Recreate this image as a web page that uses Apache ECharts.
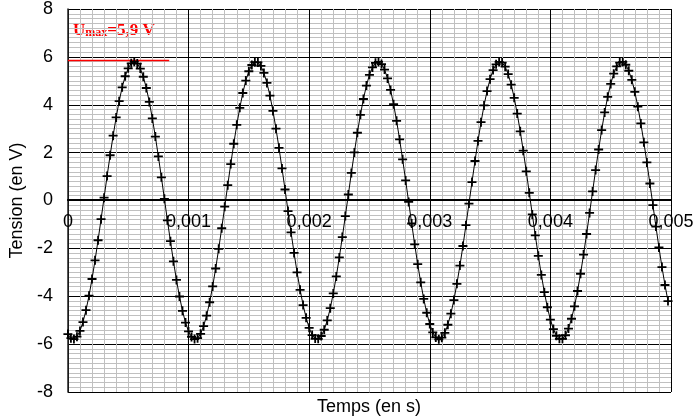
<!DOCTYPE html>
<html>
<head>
<meta charset="utf-8">
<script src="https://cdn.jsdelivr.net/npm/echarts@6/dist/echarts.min.js"></script>
<style>html,body{margin:0;padding:0;background:#fff}#c{width:698px;height:417px}</style>
</head>
<body>
<div id="c"></div>
<script>
// Sampling step of the acquisition (s)
const sampleStep = 0.000025;
// Measured tension values (V), one per sample starting at t = 0
const tension = [
 -5.58,-5.75,-5.79,-5.69,-5.45,-5.08,-4.58,-3.98,-3.28,-2.50,
 -1.66,-0.78,0.12,1.02,1.89,2.71,3.47,4.15,4.73,5.19,
 5.52,5.73,5.80,5.72,5.51,5.17,4.70,4.12,3.43,2.67,
 1.84,0.97,0.07,-0.83,-1.70,-2.54,-3.32,-4.01,-4.61,-5.10,
 -5.47,-5.70,-5.79,-5.75,-5.57,-5.25,-4.81,-4.25,-3.59,-2.84,
 -2.02,-1.16,-0.26,0.64,1.52,2.37,3.16,3.87,4.49,5.01,
 5.40,5.66,5.78,5.77,5.62,5.33,4.91,4.38,3.74,3.00,
 2.20,1.34,0.46,-0.44,-1.33,-2.19,-3.00,-3.73,-4.37,-4.90,
 -5.32,-5.62,-5.77,-5.78,-5.66,-5.40,-5.01,-4.50,-3.88,-3.17,
 -2.38,-1.53,-0.65,0.25,1.15,2.01,2.83,3.58,4.24,4.80,
 5.25,5.56,5.75,5.79,5.70,5.47,5.10,4.62,4.02,3.33,
 2.55,1.72,0.84,-0.06,-0.96,-1.83,-2.66,-3.42,-4.11,-4.69,
 -5.16,-5.51,-5.72,-5.80,-5.73,-5.53,-5.19,-4.73,-4.16,-3.48,
 -2.72,-1.90,-1.03,-0.13,0.77,1.65,2.49,3.27,3.97,4.57,
 5.07,5.45,5.69,5.79,5.76,5.59,5.28,4.84,4.29,3.63,
 2.89,2.08,1.22,0.32,-0.58,-1.46,-2.31,-3.11,-3.83,-4.46,
 -4.98,-5.37,-5.65,-5.78,-5.78,-5.63,-5.35,-4.94,-4.42,-3.78,
 -3.06,-2.26,-1.40,-0.52,0.38,1.27,2.13,2.94,3.68,4.33,
 4.87,5.30,5.60,5.76,5.79,5.67,5.42,5.04,4.54,3.92,
 3.22,2.43,1.59,0.71,-0.19,-1.09,-1.96,-2.78,-3.53,-4.20
];
// Umax reference line
const umaxLevel = 5.85;
const umaxSpan = [0, 0.00084];
const umaxText = ['U', 'max', '=5,9 V'];
// Axis settings
const xRange = [0, 0.005];
const xStep = 0.001;
const yRange = [-8, 8];
const yStep = 2;
const xTitle = 'Temps (en s)';
const yTitle = 'Tension (en V)';

const points = tension.map((v, i) => [i * sampleStep, v]);
const umaxLine = umaxSpan.map(t => [t, umaxLevel]);

const gridLeft = 67, gridRight = 27, gridTop = 8, gridBottom = 25, chartW = 698, chartH = 417;
const plotH = chartH - gridTop - gridBottom;
// distance from the bottom edge of the plot to the value 0 of the y axis
const zeroOffset = plotH * (0 - yRange[0]) / (yRange[1] - yRange[0]);
const plotCenterX = gridLeft + (chartW - gridLeft - gridRight) / 2;
const font = 'Liberation Sans, Arial, sans-serif';

const chart = echarts.init(document.getElementById('c'), null, {renderer: 'canvas'});
chart.setOption({
  animation: false,
  backgroundColor: '#ffffff',
  grid: {left: gridLeft, right: gridRight, top: gridTop, bottom: gridBottom, containLabel: false},
  xAxis: {
    type: 'value',
    position: 'bottom',
    offset: -zeroOffset,
    min: xRange[0], max: xRange[1], interval: xStep,
    axisLine: {show: true, onZero: false, lineStyle: {color: '#000', width: 2}},
    axisTick: {show: false},
    axisLabel: {
      show: true, margin: 13, color: '#000', fontSize: 18, fontFamily: font,
      showMinLabel: true, showMaxLabel: true, hideOverlap: false,
      formatter: v => v === 0 ? '0' : v.toFixed(3).replace('.', ',')
    },
    splitLine: {show: true, lineStyle: {color: '#000', width: 1}},
    minorTick: {show: false, splitNumber: 10},
    minorSplitLine: {show: true, lineStyle: {color: '#c0c0c0', width: 1}}
  },
  yAxis: {
    type: 'value',
    min: yRange[0], max: yRange[1], interval: yStep,
    name: yTitle, nameLocation: 'middle', nameGap: 35,
    nameTextStyle: {color: '#000', fontSize: 18, fontFamily: font},
    axisLine: {show: true, onZero: false, lineStyle: {color: '#222', width: 1.5}},
    axisTick: {show: false},
    axisLabel: {margin: 15, color: '#000', fontSize: 18, fontFamily: font},
    splitLine: {show: true, lineStyle: {color: '#000', width: 1}},
    minorTick: {show: false, splitNumber: 10},
    minorSplitLine: {show: true, lineStyle: {color: '#c0c0c0', width: 1}}
  },
  graphic: [
    {
      type: 'text', x: plotCenterX, y: 407,
      style: {text: xTitle, fill: '#000', fontSize: 18, fontFamily: font, align: 'center', verticalAlign: 'middle'}
    },
    {
      type: 'text', left: 73, top: 22,
      style: {
        text: '{u|' + umaxText[0] + '}{s|' + umaxText[1] + '}{u|' + umaxText[2] + '}',
        rich: {
          u: {fill: '#ff0000', fontSize: 17, fontWeight: 'bold', fontFamily: 'Liberation Serif, serif', lineHeight: 18, verticalAlign: 'bottom'},
          s: {fill: '#ff0000', fontSize: 12, fontWeight: 'bold', fontFamily: 'Liberation Serif, serif', lineHeight: 18, verticalAlign: 'bottom', padding: [4, 0, 0, 0]}
        }
      }
    }
  ],
  series: [
    {
      type: 'line',
      data: umaxLine,
      symbol: 'none',
      lineStyle: {color: '#ff0000', width: 1.5},
      z: 3
    },
    {
      type: 'line',
      data: points,
      symbol: 'path://M4,0H6V4H10V6H6V10H4V6H0V4H4Z',
      symbolSize: 9,
      showAllSymbol: true,
      itemStyle: {color: '#000'},
      lineStyle: {color: '#000', width: 1},
      z: 4
    }
  ]
});
</script>
</body>
</html>
